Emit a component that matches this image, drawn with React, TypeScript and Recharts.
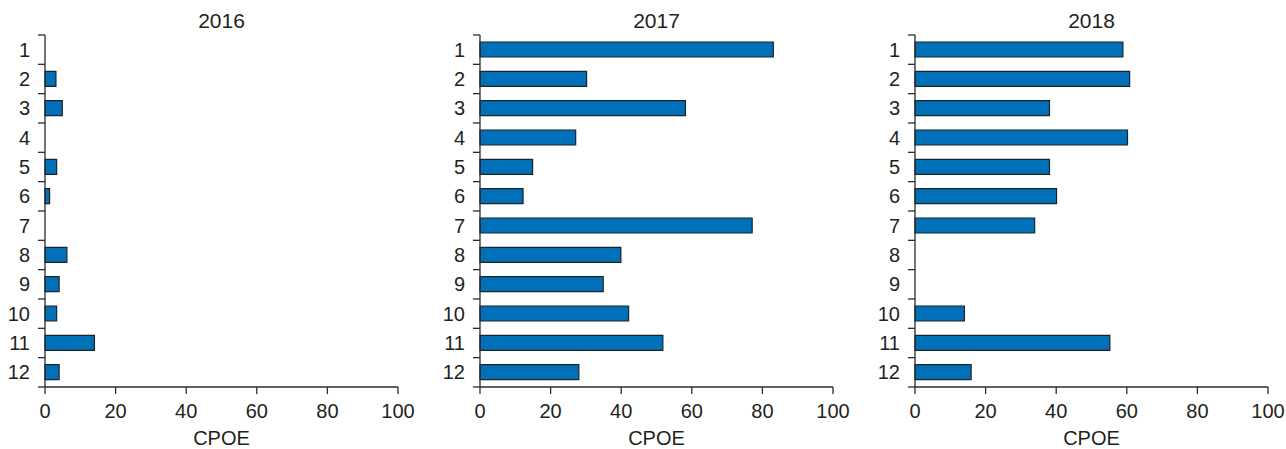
import React from 'react';
import { BarChart, Bar, XAxis, YAxis } from 'recharts';

// Monthly CPOE per year; null where the month has no value.
const months = ['1', '2', '3', '4', '5', '6', '7', '8', '9', '10', '11', '12'];
const years = ['2016', '2017', '2018'];
const cpoe2016 = [null, 3.1, 4.9, null, 3.3, 1.3, null, 6.2, 4.0, 3.3, 14.0, 4.0];
const cpoe2017 = [83.1, 30.2, 58.2, 27.1, 14.9, 12.2, 77.1, 39.9, 34.9, 42.1, 51.8, 28.0];
const cpoe2018 = [58.9, 60.8, 38.1, 60.2, 38.1, 40.1, 33.9, null, null, 14.0, 55.2, 15.9];
const cpoeTicks = [0, 20, 40, 60, 80, 100];
const axisTitle = 'CPOE';

const seriesByYear = [cpoe2016, cpoe2017, cpoe2018];
const monthPositions = months.map((_, i) => i + 1);

const FONT = "Arial, 'Liberation Sans', Helvetica, sans-serif";
const TEXT = '#231f20';
const AXIS = '#2b2b2b';
const BAR_FILL = '#0070b8';
const BAR_STROKE = '#1f2326';

const PANEL_W = 416;
const PANEL_H = 449;
const PANEL_STEP = 435;
const Y_AXIS_W = 45;
const MARGIN_TOP = 35;
const MARGIN_RIGHT = 18;
const X_AXIS_H = 62;
const TICK_SIZE = 7;
const TICK_MARGIN = 8;
const PLOT_H = PANEL_H - MARGIN_TOP - X_AXIS_H;
const HALF_BAND = PLOT_H / months.length / 2;

// Month label centred in its band, with tick marks on the band edges.
function MonthTick(props: any) {
  const { x, y, payload, index } = props;
  const axisX = x + TICK_SIZE + TICK_MARGIN;
  return (
    <g>
      {index === 0 && (
        <line x1={axisX - TICK_SIZE} x2={axisX} y1={y - HALF_BAND} y2={y - HALF_BAND} stroke={AXIS} strokeWidth={1.3} />
      )}
      <line x1={axisX - TICK_SIZE} x2={axisX} y1={y + HALF_BAND} y2={y + HALF_BAND} stroke={AXIS} strokeWidth={1.3} />
      <text
        x={x}
        y={y}
        dy="0.355em"
        textAnchor="end"
        fill={TEXT}
        fontSize={20}
        fontFamily={FONT}
      >
        {months[payload.value - 1]}
      </text>
    </g>
  );
}

function Panel({ year, values, left }: { year: string; values: (number | null)[]; left: number }) {
  const rows = months.map((label, i) => ({ m: i + 1, label, v: values[i] }));
  const tickStyle = { fill: TEXT, fontSize: 20, fontFamily: FONT };
  return (
    <div style={{ position: 'absolute', left, top: 0, width: PANEL_W, height: PANEL_H }}>
      <div
        style={{
          position: 'absolute',
          left: Y_AXIS_W,
          width: PANEL_W - Y_AXIS_W - MARGIN_RIGHT,
          top: 10,
          textAlign: 'center',
          fontFamily: FONT,
          fontSize: 21,
          lineHeight: '21px',
          color: TEXT,
        }}
      >
        {year}
      </div>
      <BarChart
        width={PANEL_W}
        height={PANEL_H}
        layout="vertical"
        data={rows}
        margin={{ top: MARGIN_TOP, right: MARGIN_RIGHT, left: 0, bottom: 0 }}
      >
        <XAxis
          type="number"
          domain={[0, 100]}
          ticks={cpoeTicks}
          interval={0}
          height={X_AXIS_H}
          tickSize={TICK_SIZE}
          tickMargin={10}
          stroke={AXIS}
          strokeWidth={1.3}
          tick={tickStyle}
          label={{ value: axisTitle, position: 'insideBottom', offset: 4, fill: TEXT, fontSize: 20, fontFamily: FONT }}
        />
        <YAxis
          type="number"
          dataKey="m"
          domain={[0.5, 12.5]}
          ticks={monthPositions}
          interval={0}
          width={Y_AXIS_W}
          tickSize={TICK_SIZE}
          tickMargin={TICK_MARGIN}
          tickLine={false}
          stroke={AXIS}
          strokeWidth={1.3}
          tick={<MonthTick />}
        />
        <Bar
          dataKey="v"
          barSize={15}
          fill={BAR_FILL}
          stroke={BAR_STROKE}
          strokeWidth={1.2}
          isAnimationActive={false}
        />
      </BarChart>
    </div>
  );
}

export default function App() {
  return (
    <div
      style={{
        position: 'absolute',
        left: 0,
        top: 0,
        width: 1286,
        height: 449,
        overflow: 'hidden',
        background: '#ffffff',
      }}
    >
      {years.map((year, i) => (
        <Panel key={year} year={year} values={seriesByYear[i]} left={i * PANEL_STEP} />
      ))}
    </div>
  );
}
